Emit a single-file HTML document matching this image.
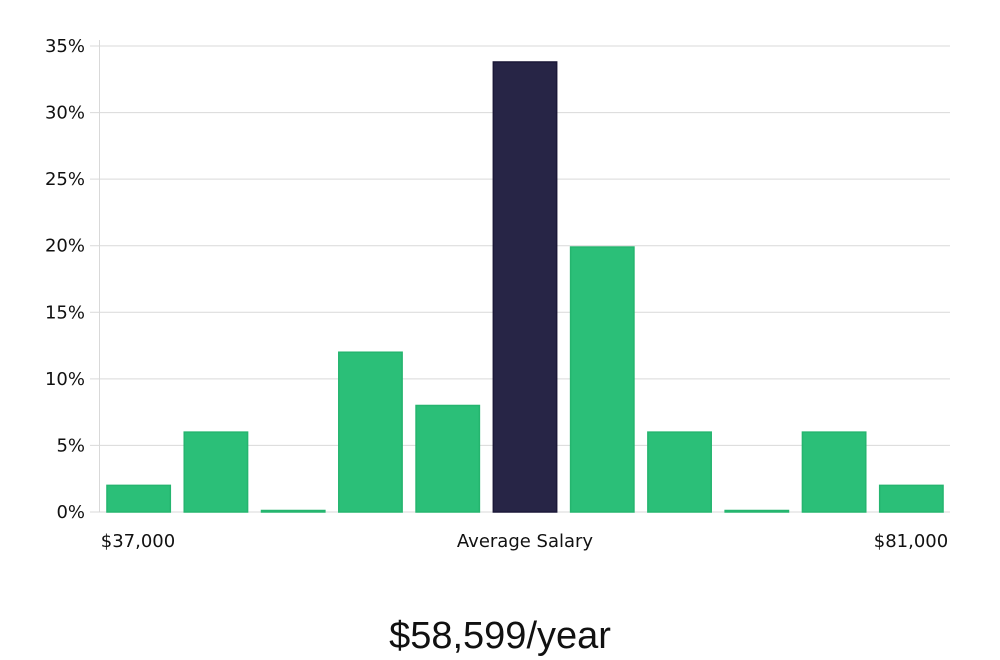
<!DOCTYPE html>
<html><head><meta charset="utf-8"><style>
body{margin:0;background:#fff;}
svg{display:block;font-family:"DejaVu Sans","Liberation Sans",sans-serif;}
</style></head><body>
<svg id="chart" width="1000" height="660" viewBox="0 0 1000 660">
<g id="grid"></g>
<g id="bars"></g>
<g id="ylabels"></g>
<text x="138" y="547" font-size="18" fill="#111" text-anchor="middle">$37,000</text>
<text x="525" y="547" font-size="18" fill="#111" text-anchor="middle">Average Salary</text>
<text x="911" y="547" font-size="18" fill="#111" text-anchor="middle">$81,000</text>
<text x="500" y="648" font-size="38" fill="#111" text-anchor="middle" font-family="Liberation Sans Narrow, Liberation Sans, sans-serif">$58,599/year</text>
</svg>
<script>
const categories = ["b1","b2","b3","b4","b5","b6","b7","b8","b9","b10","b11"];
const values = [2, 6, 0, 12, 8, 33.8, 19.9, 6, 0, 6, 2];
const highlightIndex = 5;
const yTicks = [0,5,10,15,20,25,30,35];
const yTickLabels = ["0%","5%","10%","15%","20%","25%","30%","35%"];

const NS="http://www.w3.org/2000/svg";
const x0=100,x1=950,yBase=512,yTop=46,yMax=35;
const y=v=>yBase-(v/yMax)*(yBase-yTop);
const band=(x1-x0)/categories.length, pad=band*0.09;
const grid=document.getElementById('grid'), bars=document.getElementById('bars'), yl=document.getElementById('ylabels');
function mk(tag,attrs,parent){const e=document.createElementNS(NS,tag);for(const k in attrs)e.setAttribute(k,attrs[k]);parent.appendChild(e);return e;}
yTicks.forEach((t,i)=>{
  const l=mk('line',{x1:90,x2:x1,y1:y(t),y2:y(t),stroke:'#d9d9d9','stroke-width':1},grid);
  
  
  const tx=mk('text',{x:85,y:y(t)+6,'font-size':18,fill:'#111','text-anchor':'end'},yl);
  tx.textContent=yTickLabels[i];
  
  
});
const ax=mk('line',{x1:99.5,x2:99.5,y1:40,y2:yBase,stroke:'#d9d9d9','stroke-width':1},grid);


values.forEach((v,i)=>{
  const hi=i===highlightIndex;
  const top=Math.min(y(v),yBase-1.5);
  const r=mk('rect',{x:x0+i*band+pad,y:top,width:band-2*pad,height:yBase-top,fill:hi?'#272546':'#2bbf78',stroke:hi?'#1b1838':'#25b56f','stroke-width':1.5},bars);
  
  
});
</script>
</body></html>
